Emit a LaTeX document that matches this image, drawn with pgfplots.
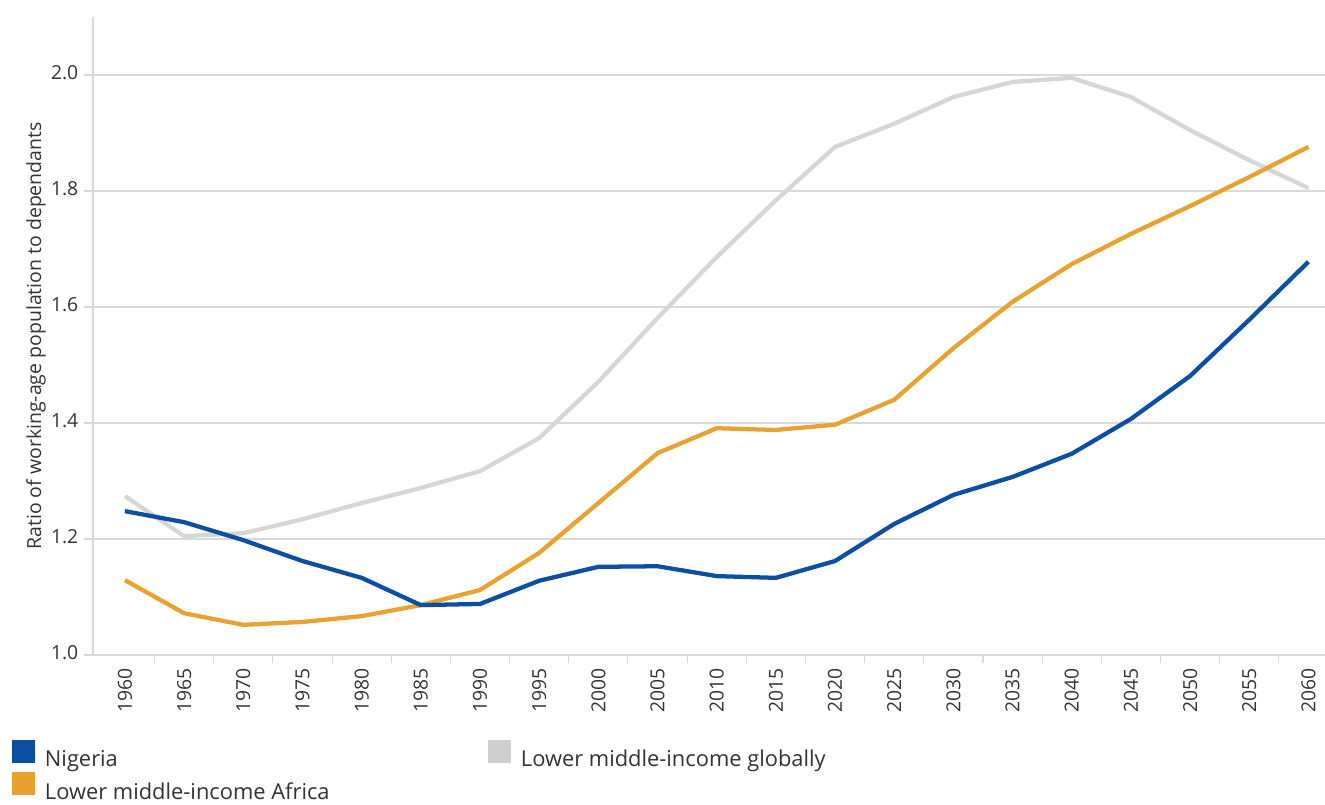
\documentclass[border=0pt]{standalone}
\usepackage{pgfplots}
\pgfplotsset{compat=1.18}
\usepackage{fontspec}
\setmainfont{Open Sans}

\definecolor{nigeria}{RGB}{11,78,162}
\definecolor{africa}{RGB}{232,162,49}
\definecolor{globalgray}{RGB}{214,214,214}
\definecolor{legendgray}{RGB}{207,207,209}
\definecolor{gridgray}{RGB}{217,217,217}
\definecolor{txt}{RGB}{51,51,51}

% Ratio of working-age population to dependants, 1960--2060
\pgfplotstableread{
year  nigeria africa global
1960  1.248   1.129  1.274
1965  1.229   1.072  1.205
1970  1.198   1.052  1.210
1975  1.162   1.057  1.234
1980  1.133   1.067  1.262
1985  1.086   1.086  1.288
1990  1.088   1.112  1.317
1995  1.128   1.176  1.374
2000  1.152   1.262  1.471
2005  1.153   1.348  1.581
2010  1.136   1.391  1.686
2015  1.133   1.388  1.784
2020  1.162   1.397  1.876
2025  1.226   1.440  1.916
2030  1.276   1.529  1.962
2035  1.307   1.609  1.988
2040  1.347   1.674  1.995
2045  1.407   1.726  1.962
2050  1.481   1.774  1.905
2055  1.578   1.824  1.853
2060  1.678   1.876  1.805
}\ratios

\begin{document}
\begin{tikzpicture}
\useasboundingbox (0,0) rectangle (993.75pt,603.75pt);
\begin{axis}[
  at={(69.75pt,112.5pt)}, anchor=south west,
  scale only axis,
  width=924pt, height=478.5pt,
  xmin=1957.3, xmax=2061.4,
  ymin=1.0, ymax=2.1,
  xtick={1960,1965,...,2060},
  minor xtick={1962.5,1967.5,...,2057.5},
  ytick={1.0,1.2,...,2.0},
  xticklabel style={/pgf/number format/1000 sep={}},
  yticklabel style={/pgf/number format/fixed, /pgf/number format/fixed zerofill, /pgf/number format/precision=1},
  /pgf/number format/assume math mode=true,
  ymajorgrids,
  grid style={gridgray, line width=1.1pt},
  axis line style={gridgray, line width=1.1pt},
  axis x line*=bottom, axis y line*=left,
  x axis line style={-},
  y axis line style={-},
  major x tick style={draw=none},
  minor x tick style={gridgray, line width=0.8pt},
  major y tick style={gridgray, line width=1.1pt},
  tick align=outside,
  major tick length=6.5pt,
  minor tick length=6pt,
  tick label style={font=\fontsize{14.5}{17}\selectfont, text=txt},
  xticklabel style={rotate=90, anchor=east},
  yticklabel style={xshift=-1pt, yshift=2pt},
  ylabel={Ratio of working-age population to dependants},
  ylabel style={font=\fontsize{14.6}{17}\selectfont, text=txt, yshift=-3pt},
  clip=false,
  legend columns=2,
  legend cell align=left,
  legend style={
    at={(axis description cs:-0.0657,-0.1323)}, anchor=north west,
    draw=none, fill=none, inner sep=0pt,
    font=\fontsize{16.4}{19}\selectfont, text=txt,
    nodes={inner sep=1pt, text depth=3pt},
    row sep=0.5pt,
    /tikz/every even column/.append style={column sep=118pt},
  },
  legend image code/.code={\fill[#1] (0pt,-2pt) rectangle (17.25pt,15.25pt);
                           \path (23.5pt,0pt);},
]
\addlegendimage{fill=nigeria, draw=none}
\addlegendentry{Nigeria}
\addlegendimage{fill=legendgray, draw=none}
\addlegendentry{Lower middle-income globally}
\addlegendimage{fill=africa, draw=none}
\addlegendentry{Lower middle-income Africa}

\addplot[globalgray, line width=3.2pt, forget plot] table[x=year, y=global] {\ratios};
\addplot[africa, line width=3.2pt, forget plot] table[x=year, y=africa] {\ratios};
\addplot[nigeria, line width=3.2pt, forget plot] table[x=year, y=nigeria] {\ratios};
\end{axis}
\end{tikzpicture}
\end{document}
